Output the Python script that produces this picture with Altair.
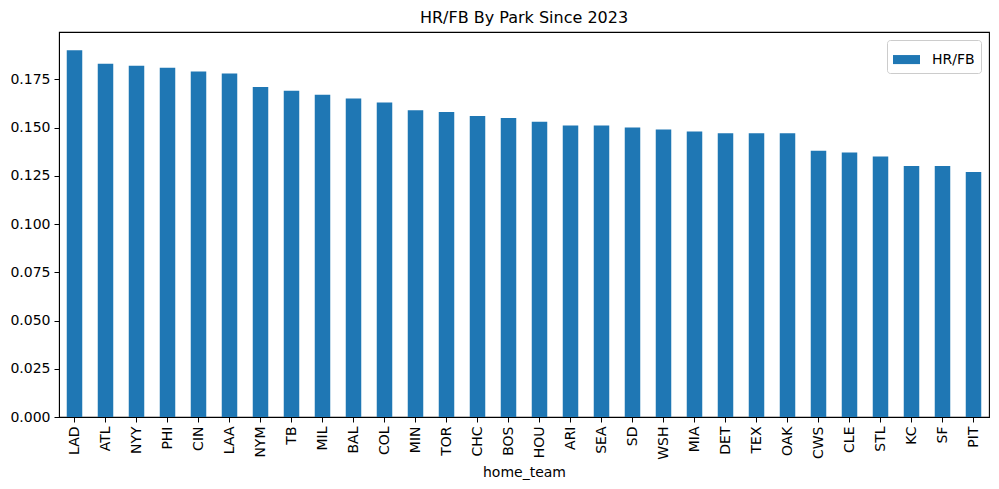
import altair as alt
import pandas as pd

teams = ["LAD", "ATL", "NYY", "PHI", "CIN", "LAA", "NYM", "TB", "MIL", "BAL",
         "COL", "MIN", "TOR", "CHC", "BOS", "HOU", "ARI", "SEA", "SD", "WSH",
         "MIA", "DET", "TEX", "OAK", "CWS", "CLE", "STL", "KC", "SF", "PIT"]
hr_fb = [0.190, 0.183, 0.182, 0.181, 0.179, 0.178, 0.171, 0.169, 0.167, 0.165,
         0.163, 0.159, 0.158, 0.156, 0.155, 0.153, 0.151, 0.151, 0.150, 0.149,
         0.148, 0.147, 0.147, 0.147, 0.138, 0.137, 0.135, 0.130, 0.130, 0.127]
y_ticks = [0.0, 0.025, 0.05, 0.075, 0.1, 0.125, 0.15, 0.175]

df = pd.DataFrame({"home_team": teams, "HR/FB": hr_fb, "series": ["HR/FB"] * len(teams)})

FONT = "DejaVu Sans"

chart = alt.Chart(df).mark_bar(color="#1f77b4").encode(
    x=alt.X("home_team:N", sort=teams,
            scale=alt.Scale(paddingInner=0.5, paddingOuter=0.25),
            axis=alt.Axis(title="home_team", labelAngle=270, labelFontSize=14,
                          titleFontSize=14, titleFontWeight="normal",
                          labelColor="black", titleColor="black",
                          tickColor="black", domainColor="black",
                          tickSize=5, labelPadding=4, titlePadding=6,
                          labelFont=FONT, titleFont=FONT)),
    y=alt.Y("HR/FB:Q", scale=alt.Scale(domain=[0, 0.1995], nice=False),
            axis=alt.Axis(title=None, values=y_ticks, format=".3f", grid=False,
                          labelFontSize=14, labelColor="black", tickColor="black",
                          domainColor="black", tickSize=5, labelPadding=4,
                          labelFont=FONT)),
    color=alt.Color("series:N", scale=alt.Scale(domain=["HR/FB"], range=["#1f77b4"]),
                    legend=alt.Legend(title=None, orient="top-right", offset=8,
                                      symbolType="M-1,-0.33h2v0.67h-2z", symbolSize=729,
                                      symbolStrokeWidth=0, labelFontSize=14,
                                      labelFont=FONT, labelColor="black",
                                      labelOffset=12, padding=6,
                                      strokeColor="#cccccc", cornerRadius=3,
                                      fillColor="white")),
).properties(
    width=930, height=385,
    title=alt.TitleParams("HR/FB By Park Since 2023", fontSize=16, fontWeight="normal",
                          font=FONT, color="black", offset=6),
    autosize=alt.AutoSizeParams(type="none"),
    padding={"left": 51, "top": 24, "right": 2, "bottom": 64},
).configure_view(stroke="black", strokeWidth=1.1)

chart.save("out.html", embed_options={"renderer": "svg", "actions": False})
